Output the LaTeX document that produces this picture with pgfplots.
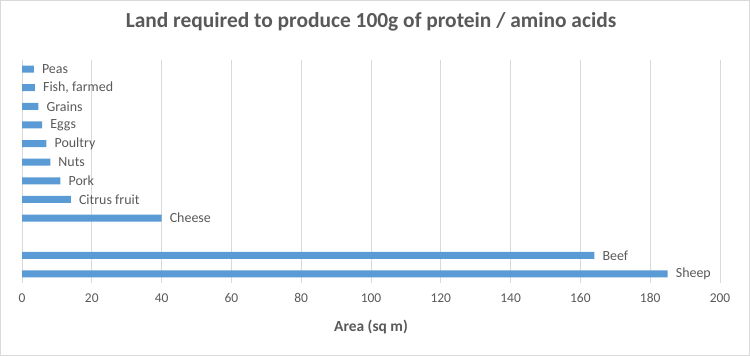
\documentclass[border=0pt]{standalone}
\usepackage{pgfplots}
\pgfplotsset{compat=1.18}
\usepackage{pgfplotstable}
\usepackage{fontspec}
\setmainfont{Carlito}
\definecolor{barblue}{HTML}{5B9BD5}
\definecolor{txt}{HTML}{595959}
\definecolor{grd}{HTML}{D9D9D9}
\pgfplotstableread[col sep=semicolon]{
i;v;lab
0;185;Sheep
1;164;Beef
3;40;Cheese
4;14;Citrus fruit
5;11;Pork
6;8.1;Nuts
7;7;Poultry
8;5.8;Eggs
9;4.7;Grains
10;3.7;Fish, farmed
11;3.4;Peas
}\data
\begin{document}
\begin{tikzpicture}
\useasboundingbox (0,0) rectangle (750bp,356bp);
\draw[grd, line width=0.75bp] (0.5bp,0.5bp) rectangle (749.5bp,355.5bp);
\begin{axis}[at={(22bp,72.7bp)}, anchor=south west, scale only axis,
  width=698bp, height=223.6bp,
  xbar, bar width=7bp, xmin=0, xmax=200, ymin=-0.5, ymax=11.5,
  xtick={0,20,...,200}, ytick=\empty,
  axis line style={draw=none}, major tick length=0pt,
  xmajorgrids, grid style={grd, line width=0.75bp},
  tick label style={font=\fontsize{13.5}{13.5}\selectfont, text=txt},
  xticklabel style={anchor=center, yshift=-15bp},
  /pgf/number format/assume math mode=true,
  xlabel={Area (sq m)},
  xlabel style={font=\bfseries\fontsize{15.5}{15.5}\selectfont, text=txt, at={(0.5,0)}, anchor=center, yshift=-44bp},
  title={Land required to produce 100g of protein / amino acids},
  title style={font=\bfseries\fontsize{21.5}{21.5}\selectfont, text=txt, at={(0.5,1)}, anchor=center, yshift=32bp},
  nodes near coords, point meta=explicit symbolic,
  nodes near coords style={font=\fontsize{14}{14}\selectfont, text=txt, anchor=west, inner sep=0pt, xshift=8bp},
  clip=false,
]
\addplot[fill=barblue, draw=none] table[x=v,y=i,meta=lab]{\data};
\end{axis}
\end{tikzpicture}
\end{document}
